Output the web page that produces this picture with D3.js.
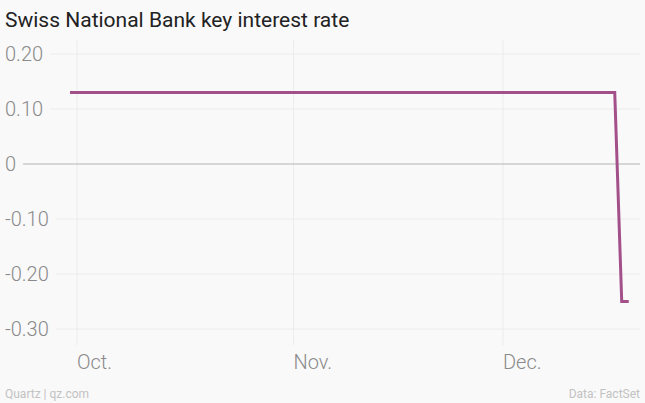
<!DOCTYPE html>
<html>
<head>
<meta charset="utf-8">
<script src="https://cdn.jsdelivr.net/npm/d3@7"></script>
<style>
  body { margin: 0; background: #f9f9f9; }
  svg { display: block; font-family: Roboto, "Open Sans", sans-serif; }
</style>
</head>
<body>
<div id="chart"></div>
<script>
// data
var dates = ["2014-09-30", "2014-12-17", "2014-12-18", "2014-12-19"];
var rates = [0.13, 0.13, -0.25, -0.25];
var yTicks = [0.20, 0.10, 0, -0.10, -0.20, -0.30];
var yTickLabels = ["0.20", "0.10", "0", "-0.10", "-0.20", "-0.30"];
var xTicks = ["2014-10-01", "2014-11-01", "2014-12-01"];
var xTickLabels = ["Oct.", "Nov.", "Dec."];

var svgWidth = 645, svgHeight = 403;
var parse = d3.timeParse("%Y-%m-%d");

var svg = d3.select("#chart").append("svg")
    .attr("width", svgWidth)
    .attr("height", svgHeight);

svg.append("rect").attr("width", svgWidth).attr("height", svgHeight).attr("fill", "#f9f9f9");

// scales: Oct 1 at x=77, Dec 1 at x=503
var x = d3.scaleTime()
    .domain([parse("2014-10-01"), parse("2014-12-01")])
    .range([77, 503]);
var y = d3.scaleLinear()
    .domain([-0.30, 0.20])
    .range([329, 54]);

// title
svg.append("text")
    .attr("x", 5).attr("y", 27)
    .attr("font-size", "21px")
    .attr("fill", "#222")
    .text("Swiss National Bank key interest rate");

// vertical grid
svg.append("g").selectAll("line")
    .data(xTicks)
    .enter().append("line")
    .attr("x1", d => x(parse(d))).attr("x2", d => x(parse(d)))
    .attr("y1", 40).attr("y2", 345)
    .attr("stroke", "#ececec").attr("stroke-width", 1);

// y labels and horizontal grid
var yg = svg.append("g");
yTicks.forEach(function(t, i) {
    var lbl = yg.append("text")
        .attr("x", 5).attr("y", y(t))
        .attr("dy", "0.36em")
        .attr("font-size", "20px")
        .attr("font-weight", 300)
        .attr("fill", "#8a8a8a")
        .text(yTickLabels[i]);
    var w = lbl.node().getComputedTextLength();
    yg.append("line")
        .attr("x1", 5 + w + 7).attr("x2", 640)
        .attr("y1", y(t)).attr("y2", y(t))
        .attr("stroke", t === 0 ? "#b4b4b4" : "#ececec")
        .attr("stroke-width", 1);
});

// x labels
svg.append("g").selectAll("text")
    .data(xTicks)
    .enter().append("text")
    .attr("x", d => x(parse(d)))
    .attr("y", 369)
    .attr("font-size", "20px")
    .attr("font-weight", 300)
    .attr("fill", "#8a8a8a")
    .text((d, i) => xTickLabels[i]);

// line
var series = dates.map((d, i) => ({date: parse(d), value: rates[i]}));
svg.append("path")
    .datum(series)
    .attr("fill", "none")
    .attr("stroke", "#a3508a")
    .attr("stroke-width", 3)
    .attr("d", d3.line().x(d => x(d.date)).y(d => y(d.value)));

// footer
svg.append("text")
    .attr("x", 5).attr("y", 398)
    .attr("font-size", "12px")
    .attr("fill", "#c2c2c2")
    .text("Quartz | qz.com");
svg.append("text")
    .attr("x", 640).attr("y", 398)
    .attr("text-anchor", "end")
    .attr("font-size", "12px")
    .attr("fill", "#c2c2c2")
    .text("Data: FactSet");
</script>
</body>
</html>
